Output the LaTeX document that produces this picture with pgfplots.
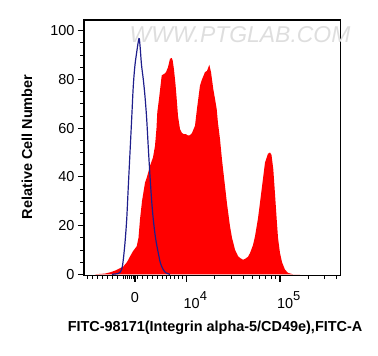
\documentclass[border=0pt]{standalone}
\usepackage{pgfplots}
\pgfplotsset{compat=1.18}
\usepackage{fontspec}
\setmainfont{Liberation Sans}
\definecolor{ctrlblue}{RGB}{30,30,140}
\definecolor{wm}{RGB}{222,222,222}
\newcommand{\decade}[1]{\makebox[0pt][l]{\hspace{-3bp}10\raisebox{1.0ex}{\fontsize{13}{13}\selectfont #1}}}
\begin{document}
\begin{tikzpicture}
\begin{axis}[
  scale only axis,
  width=256.5bp, height=255.5bp,
  at={(0,0)}, anchor=south west,
  xmin=84, xmax=340.5,
  ymin=-0.49, ymax=104.4,
  axis line style={line width=1.1pt},
  tick align=outside,
  xtick pos=bottom, ytick pos=left,
  xtick={135,186.7,280},
  xticklabels={0,\decade{4},\decade{5}},
  minor xtick={87,92,97,102,107,112,117,123,125,127,129,131,133,137,142,147,152,157,162,166,170,174,178,182,214.8,231.2,242.9,251.9,259.3,265.5,270.9,275.6,308.1,324.5,336.2},
  ytick={0,20,40,60,80,100},
  minor y tick num=3,
  major tick length=6bp, minor tick length=3.5bp,
  every tick/.style={black, line width=1.1pt},
  every minor tick/.style={black, line width=0.8pt},
  tick label style={font=\fontsize{14.5}{14.5}\selectfont, text=black},
  xticklabel style={yshift=-7bp},
  /pgf/number format/assume math mode=true,
  xlabel={FITC-98171(Integrin alpha-5/CD49e),FITC-A},
  ylabel={Relative Cell Number},
  label style={font=\fontsize{14.5}{14.5}\selectfont\bfseries},
  xlabel style={at={(rel axis cs:0.511,-0.2055)}, anchor=center},
  ylabel style={at={(rel axis cs:-0.222,0.503)}, anchor=center, rotate=0},
  clip mode=individual,
]
\addplot[fill=red, draw=none] coordinates {
(95,0) (105,0.3) (110,0.8) (115,1.5) (120,2.5) (123.3,3.2) (127,5) (130,7.3) (133,9.5) (136.7,11.5) (138.5,15) (140,22.5) (142,30) (145,37.6) (147,40) (150,44.5) (153,48) (155,52.7) (156.5,60) (157.3,66.5) (159,72) (161.7,81.6) (163,82) (165,82.5) (166,83) (168,85) (170,88.5) (171.7,88.8) (172.7,87.8) (174,84) (175.5,78) (176.7,72) (178,65) (180,59.6) (182,58) (184,57.5) (186,57.5) (188,57) (190,57.1) (192,58) (194,60) (195,61) (197,68) (200,77.5) (202,80) (205,83) (207,83.5) (209.3,86) (211,83) (213.3,76) (215,72) (216.7,67.8) (218,62) (220,55.5) (222,47) (225,36.2) (227,29) (230,19.7) (232,15) (235,10.1) (238,7.5) (240,6.7) (243,6) (245,6.3) (248,7.2) (250,8.7) (253,12) (255,15.6) (258,23) (260,29.4) (262,36) (265,45.9) (268,49.5) (270,50) (271.5,49) (273.3,43.1) (275,33) (276.7,22.5) (278,15) (280,8.7) (282,5) (285,1.9) (288,0.6) (293,0) (300,0)
} \closedcycle;
\addplot[ctrlblue, line width=1.2pt, smooth] coordinates {
(112,0) (118,0.3) (120,0.8) (122,2.5) (123.3,6) (125,13) (126.7,22.5) (128.3,36) (130,50) (131.7,64) (133.3,77.4) (135,86) (137,92) (138.5,96) (139.3,96.7) (140.2,93) (141.5,86) (143.3,80) (145,73) (146.7,63.7) (148.3,52) (150,40.3) (151.7,30) (153.3,22.5) (155.5,15) (158.3,8.7) (160.5,4.5) (163.3,1.9) (166,0.6) (170,0)
};
\node[text=wm, font=\fontsize{23}{23}\selectfont\itshape] at (axis cs:240,98.2) {WWW.PTGLAB.COM};
\end{axis}
\pgfresetboundingbox
\useasboundingbox (-84bp,-80.5bp) rectangle (294bp,275.5bp);
\end{tikzpicture}
\end{document}
